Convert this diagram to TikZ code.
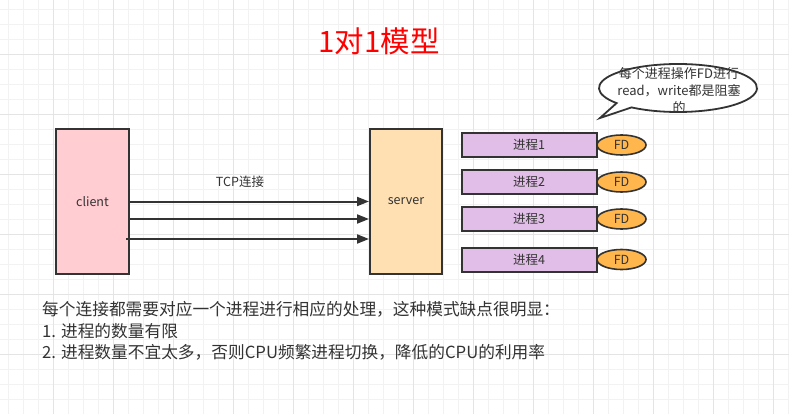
\documentclass[tikz,border=0pt]{standalone}
\usepackage{fontspec}
\setmainfont{Noto Sans CJK SC}
\usetikzlibrary{arrows.meta,shapes.geometric,calc}
\definecolor{ink}{HTML}{333333}
\definecolor{gridminor}{HTML}{F2F2F2}
\definecolor{gridmajor}{HTML}{E4E4E4}
\definecolor{clientfill}{HTML}{FFCDD2}
\definecolor{serverfill}{HTML}{FFE0B2}
\definecolor{procfill}{HTML}{E1BEE7}
\definecolor{fdfill}{HTML}{FFB74D}
\tikzset{
  box/.style={draw=ink, line width=2pt, inner sep=0pt, text=ink, font=\fontsize{12.5}{15}\selectfont},
  procbox/.style={box, fill=procfill, minimum width=135pt, minimum height=24pt},
  fdnode/.style={ellipse, draw=ink, line width=1.6pt, fill=fdfill, minimum width=49pt, minimum height=20pt, inner sep=0pt, text=ink, font=\fontsize{12.5}{15}\selectfont},
  conn/.style={draw=ink, line width=2pt, -{Triangle[length=12pt,width=9pt]}},
  bodytext/.style={anchor=west, text=ink, inner sep=0pt, font=\fontsize{16.7}{20}\selectfont},
  lbl/.style={text=ink, inner sep=0pt, font=\fontsize{12.5}{15}\selectfont}
}
\begin{document}
\begin{tikzpicture}[x=1pt,y=-1pt]
\useasboundingbox (0,0) rectangle (789,414);
\fill[white] (0,0) rectangle (789,414);
% grid
\foreach \i in {0,...,52} {\draw[gridminor, line width=0.8pt] ({8+15*\i},0) -- ({8+15*\i},414);}
\foreach \j in {0,...,27} {\draw[gridminor, line width=0.8pt] (0,{9+15*\j}) -- (789,{9+15*\j});}
\foreach \i in {0,...,12} {\draw[gridmajor, line width=0.8pt] ({53+60*\i},0) -- ({53+60*\i},414);}
\foreach \j in {0,...,6} {\draw[gridmajor, line width=0.8pt] (0,{54+60*\j}) -- (789,{54+60*\j});}

% title
\node[text=red, inner sep=0pt, font=\fontsize{29.5}{33}\selectfont] (title) at (379,41) {1对1模型};

% client / server
\node[box, fill=clientfill, minimum width=73pt, minimum height=145pt] (client) at (92.5,201.5) {client};
\node[box, fill=serverfill, minimum width=72pt, minimum height=145pt] (server) at (406,201.5) {server};

% connections
\draw[conn] (client.east) -- (server.west);
\draw[conn] ([yshift=-17.5pt]client.east) -- ([yshift=-17.5pt]server.west);
\draw[conn] ([xshift=-4pt,yshift=-37.5pt]client.east) -- ([yshift=-37.5pt]server.west);
\node[lbl] (tcp) at (240,182) {TCP连接};

% processes
\node[procbox] (p1) at (529,145) {进程1};
\node[procbox] (p2) at (529,182) {进程2};
\node[procbox] (p3) at (529,219) {进程3};
\node[procbox] (p4) at (529,260) {进程4};
\node[fdnode] (fd1) at (621.5,145) {FD};
\node[fdnode] (fd2) at (621.5,182) {FD};
\node[fdnode] (fd3) at (621.5,219) {FD};
\node[fdnode] (fd4) at (621.5,259.5) {FD};

% callout
\coordinate (cc) at (678,88);
\coordinate (tip) at (600,118);
\draw[ink, line width=1.8pt, fill=white]
  ($(cc)+(234:79pt and 24pt)$) arc[start angle=234, end angle=579, x radius=79pt, y radius=24pt]
  -- (tip) -- cycle;
\node[lbl, align=center, font=\fontsize{13}{16.7}\selectfont] (note) at (679,90.5) {每个进程操作FD进行\\read，write都是阻塞\\的};

% bottom text
\node[bodytext] (t1) at (42,309) {每个连接都需要对应一个进程进行相应的处理，这种模式缺点很明显：};
\node[bodytext] (t2) at (42,331) {1. 进程的数量有限};
\node[bodytext] (t3) at (42,352) {2. 进程数量不宜太多，否则CPU频繁进程切换，降低的CPU的利用率};
\end{tikzpicture}
\end{document}
